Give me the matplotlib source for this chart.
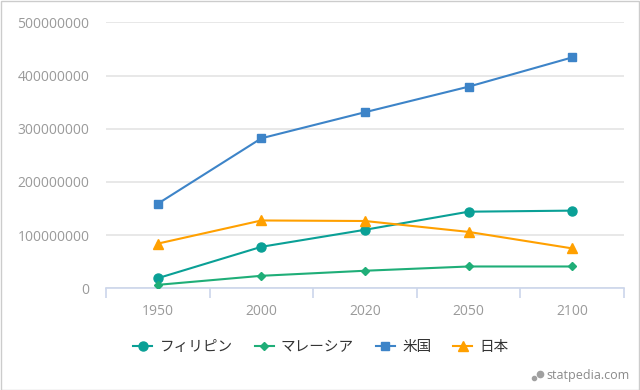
import matplotlib.pyplot as plt
from matplotlib.patches import Rectangle
from matplotlib.lines import Line2D
from matplotlib.ticker import FixedLocator, FuncFormatter

plt.rcParams['font.family'] = ['Open Sans', 'Noto Sans CJK JP', 'DejaVu Sans']

years = ['1950', '2000', '2020', '2050', '2100']
philippines = [19000000, 78000000, 110000000, 144000000, 146000000]
malaysia = [6500000, 23500000, 33000000, 41000000, 41000000]
usa = [159000000, 282000000, 331000000, 379000000, 434000000]
japan = [84000000, 127500000, 126500000, 106000000, 75000000]

names = ['フィリピン', 'マレーシア', '米国', '日本']
colors = ['#0aa096', '#1fae78', '#3d84c8', '#ffa000']
markers = ['o', 'D', 's', '^']
msizes = [6.5, 4.5, 6, 7]

fig = plt.figure(figsize=(6.4, 3.9), dpi=100)
ax = fig.add_axes([106 / 640, 1 - 288.3 / 390, (624 - 106) / 640, (288.3 - 22.3) / 390])

x = list(range(len(years)))
for vals, name, c, m, ms in zip([philippines, malaysia, usa, japan], names, colors, markers, msizes):
    ax.plot(x, vals, color=c, marker=m, markersize=ms, linewidth=1.5, label=name, zorder=3)

ax.set_xlim(-0.5, len(years) - 0.5)
ax.set_ylim(0, 500000000)
ax.set_yticks(range(0, 500000001, 100000000))
ax.yaxis.set_major_formatter(FuncFormatter(lambda v, p: '%d' % v))
ax.set_xticks(x)
ax.set_xticklabels(years)
ax.xaxis.set_minor_locator(FixedLocator([i - 0.5 for i in range(len(years) + 1)]))

ax.grid(axis='y', color='#e4e4e4', linewidth=1.2)
ax.set_axisbelow(True)
for s in ['top', 'right', 'left']:
    ax.spines[s].set_visible(False)
ax.spines['bottom'].set_color('#ccd6eb')
ax.spines['bottom'].set_linewidth(1.2)

ax.tick_params(axis='y', length=0, pad=12, labelsize=10, labelcolor='#9a9a9a')
ax.tick_params(axis='x', which='major', length=0, pad=11, labelsize=10, labelcolor='#9a9a9a')
ax.tick_params(axis='x', which='minor', length=7, width=1.2, color='#ccd6eb')

leg = fig.legend(loc='center', bbox_to_anchor=(321 / 640, 1 - 347 / 390), ncol=4, frameon=False,
                 handlelength=1.3, handletextpad=0.5, columnspacing=1.5,
                 prop={'family': ['Noto Sans CJK JP', 'DejaVu Sans'], 'size': 10.5})
for t in leg.get_texts():
    t.set_color('#333333')

# watermark
fig.text(546 / 640, 1 - 376 / 390, 'statpedia.com', ha='left', va='center', fontsize=9, color='#8a8a8a')
fig.add_artist(Line2D([534 / 640], [1 - 378 / 390], marker='o', markersize=3, color='#a0a0a0', transform=fig.transFigure))
fig.add_artist(Line2D([539.5 / 640], [1 - 373.5 / 390], marker='o', markersize=4.5, color='#a0a0a0', transform=fig.transFigure))

fig.add_artist(Rectangle((0.5 / 640, 0.5 / 390), 638 / 640, 389 / 390, transform=fig.transFigure,
                         fill=False, edgecolor='#cccccc', linewidth=1))

fig.savefig('out.png', dpi=100)
